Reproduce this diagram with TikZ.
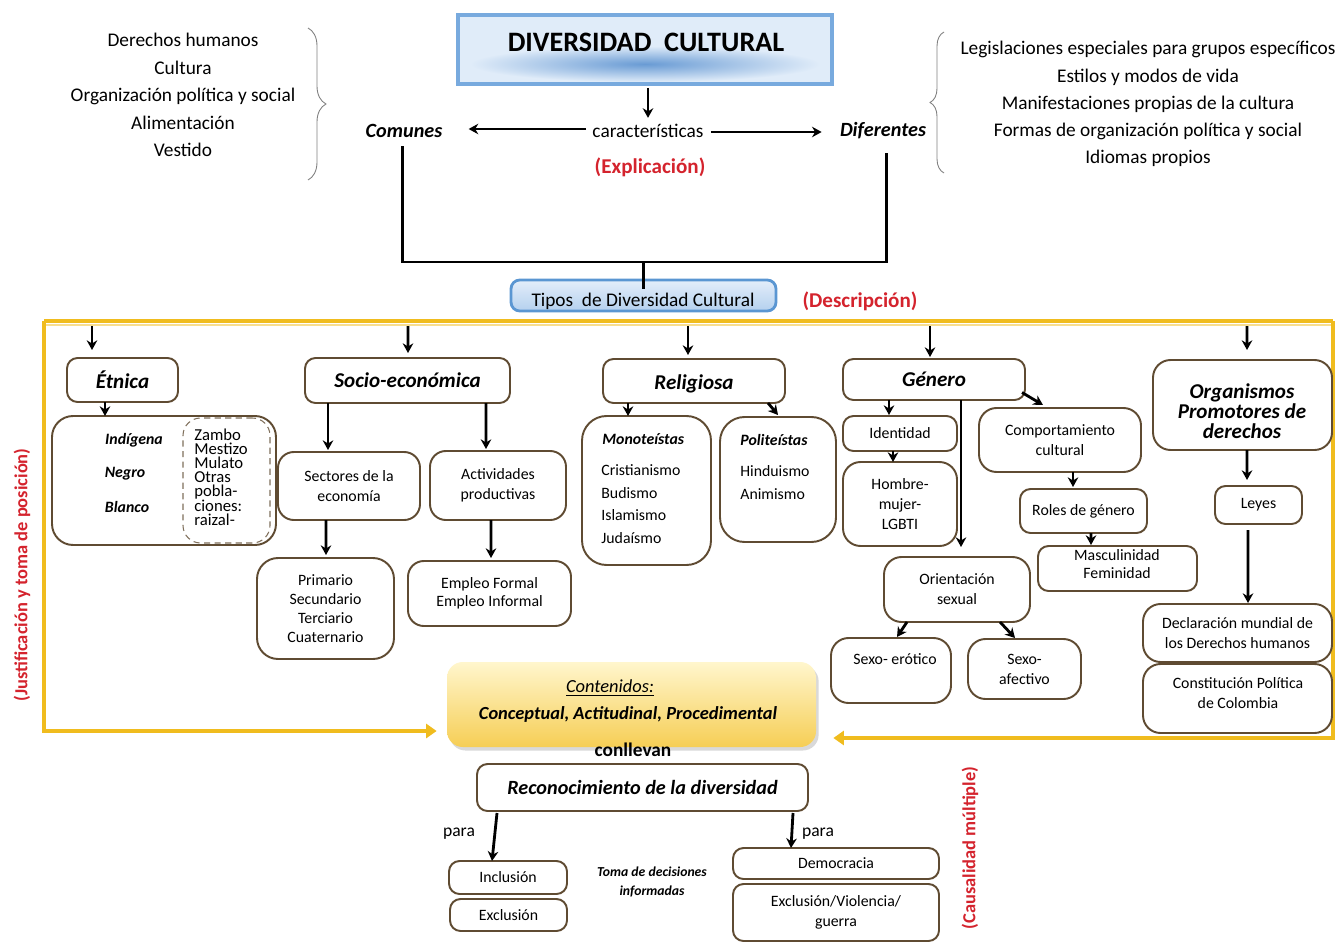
\documentclass[tikz,border=0pt]{standalone}
\usepackage{fontspec}
\setmainfont{Carlito}
\usetikzlibrary{calc,arrows.meta,decorations.pathreplacing,shadows}
\definecolor{brn}{RGB}{95,75,50}
\definecolor{ylw}{RGB}{240,188,30}
\definecolor{redt}{RGB}{212,35,45}
\definecolor{tbord}{RGB}{120,170,222}
\definecolor{tfill}{RGB}{224,236,249}
\definecolor{tglow}{RGB}{105,155,212}
\definecolor{tipb}{RGB}{90,150,210}
\definecolor{tip1}{RGB}{228,238,250}
\definecolor{tip2}{RGB}{180,208,238}
\definecolor{cnt1}{RGB}{255,246,205}
\definecolor{cnt2}{RGB}{246,206,85}
\begin{document}
\begin{tikzpicture}[x=0.02cm,y=-0.02cm,
  cr/.style args={#1/#2/#3/#4}{at={({(#1+#3)/2},{(#2+#4)/2})}, minimum width={(#3-#1)*0.02cm}, minimum height={(#4-#2)*0.02cm}},
  box/.style={draw=brn, line width=1.1pt, rounded corners=6pt, fill=white, inner sep=0pt, outer sep=0pt, align=center, font=\fontsize{9}{11.3}\selectfont},
  hd/.style={box, font=\fontsize{12}{11.4}\selectfont\bfseries\itshape},
  txt/.style={inner sep=0pt, align=center},
  sbi/.style={txt, font=\fontsize{9}{11}\selectfont\bfseries\itshape},
  arr/.style={-{Stealth[length=5.5pt,width=6pt]}, line width=1.6pt, black},
  yarr/.style={draw=ylw, line width=1.8pt, -{Triangle[length=6pt,width=8pt]}},
  red/.style={txt, text=redt, font=\fontsize{12}{13}\selectfont\bfseries}]
\useasboundingbox (0,0) rectangle (1344,942);

% ---------- top part ----------
\node[txt, font=\fontsize{11}{15.6}\selectfont] (ll) at (183,95) {Derechos humanos\\Cultura\\Organización política y social\\Alimentación\\Vestido};
\draw[gray, line width=0.5pt, decorate, decoration={brace, amplitude=0.36cm}] (308,28) -- (308,180);
\node[txt, font=\fontsize{11}{15.45}\selectfont] (rl) at (1148,104) {Legislaciones especiales para grupos específicos\\Estilos y modos de vida\\Manifestaciones propias de la cultura\\Formas de organización política y social\\Idiomas propios};
\draw[gray, line width=0.5pt, decorate, decoration={brace, amplitude=0.28cm}] (944,173) -- (944,32);

\node[cr=458/15/832/84, inner sep=0pt, outer sep=0pt, fill=tfill] (tb) {};
\shade[inner color=tglow, outer color=tfill] (645,64) ellipse (3.5cm and 0.36cm);
\draw[tbord, line width=2.4pt] (tb.south west) rectangle (tb.north east);
\node[txt, font=\fontsize{16}{17}\selectfont\bfseries] (tbt) at (646,42) {DIVERSIDAD\ \ CULTURAL};

\node[txt, font=\fontsize{11}{12}\selectfont] (car) at (648,131) {características};
\node[txt, font=\fontsize{11.5}{12}\selectfont\bfseries\itshape] (com) at (404,131) {Comunes};
\node[txt, font=\fontsize{11.5}{12}\selectfont\bfseries\itshape] (dif) at (883,131) {Diferentes};
\node[red] (expl) at (650,167) {(Explicación)};

\draw[arr] ($(tb.south)+(3,4)$) -- ($(car.north)+(0,-6)$);
\draw[arr] ($(car.west)+(-6,-2)$) -- ($(com.east)+(26,-2)$);
\draw[arr] ($(car.east)+(7,1)$) -- ($(dif.west)+(-18,1)$);

\node[cr=511/280/776/311, inner sep=0pt, draw=tipb, line width=1.6pt, rounded corners=5pt, top color=tip1, bottom color=tip2] (tip) {};
\node[txt, font=\fontsize{11}{12}\selectfont] (tipt) at (643,301) {Tipos\ \ de Diversidad Cultural};
\draw[line width=1.7pt] ($(com.south)+(-2,8)$) |- (886,262) coordinate (jr) -- ($(dif.south)+(3,13)$);
\draw[line width=1.7pt] ($(tip.north)+(0,10)$) -- ($(tip.north)+(0,-18)$);
\node[red] (desc) at (860,301) {(Descripción)};

% ---------- yellow frame ----------
\node[cr=447/662/816/747, inner sep=0pt, rounded corners=9pt, top color=cnt1, bottom color=cnt2, drop shadow={opacity=0.3, shadow xshift=1.5pt, shadow yshift=-2pt}] (cont) {};
\coordinate (ytl) at (44,321);
\coordinate (ytr) at (1333,321);
\draw[ylw, line width=1.8pt] (ytl) -- (ytr);
\draw[ylw!50, line width=0.8pt] (44,325) -- (1333,325);
\draw[yarr] (ytl) |- ($(cont.west)+(-10,26.5)$);
\draw[yarr] (ytr) |- ($(cont.east)+(17,33.5)$);

\node[red, rotate=90, font=\fontsize{10.5}{12}\selectfont\bfseries] (just) at (22,575) {(Justificación y toma de posición)};
\node[red, rotate=90, font=\fontsize{10.5}{12}\selectfont\bfseries] (caus) at (970,848) {(Causalidad múltiple)};

% ---------- level 1 ----------
\node[hd, cr=67/358/178/402] (etn) {Étnica};
\node[hd, cr=305/358/510/403] (soc) {Socio-económica};
\node[hd, cr=603/359/785/403, text height=11pt, text depth=1pt] (rel) {Religiosa};
\node[hd, cr=843/359/1025/400] (gen) {Género};
\node[hd, cr=1153/360/1332/450, rounded corners=10pt] (org) {};
\node[txt, font=\fontsize{12}{11.4}\selectfont\bfseries\itshape] (orgt) at (1242,411) {Organismos\\Promotores de\\derechos};

\coordinate (a1) at (92,326);
\coordinate (a2) at (408,326);
\coordinate (a3) at (688,326);
\coordinate (a4) at (930,326);
\coordinate (a5) at (1247,326);
\draw[arr] (a1) -- ($(etn.north)+(-30.5,-8)$);
\draw[arr] (a2) -- ($(soc.north)+(0.5,-5)$);
\draw[arr] (a3) -- ($(rel.north)+(-6,-4)$);
\draw[arr] (a4) -- ($(gen.north)+(-4,-2)$);
\draw[arr] (a5) -- ($(org.north)+(4.5,-10)$);

% ---------- Etnica ----------
\node[box, cr=52/416/276/545, rounded corners=12pt] (etnb) {};
\node[sbi] (ind) at (134,440) {Indígena};
\node[sbi] (neg) at (125,474) {Negro};
\node[sbi] (bla) at (127,507) {Blanco};
\node[draw=brn!80, line width=0.6pt, dash pattern=on 3.5pt off 2.5pt, rounded corners=10pt, cr=183/418/270/543, inner sep=0pt] (mix) {};
\node[txt, align=left, anchor=west, font=\fontsize{9.5}{8.1}\selectfont] (mixt) at (194,477) {Zambo\\Mestizo\\Mulato\\Otras\\pobla-\\ciones:\\raizal-};
\draw[arr] ($(etn.south)+(-17.5,0)$) -- ($(etnb.north)+(-59,0)$);

% ---------- Socio-economica ----------
\node[box, cr=278/452/420/520, rounded corners=9pt] (sect) {Sectores de la\\economía};
\node[box, cr=430/451/566/520, rounded corners=9pt] (act) {Actividades\\productivas};
\node[box, cr=257/558/394/659, rounded corners=12pt, font=\fontsize{9}{10.9}\selectfont] (prim) {Primario\\Secundario\\Terciario\\Cuaternario};
\node[box, cr=408/561/571/626, rounded corners=9pt, font=\fontsize{9}{10.2}\selectfont] (emp) {Empleo Formal\\Empleo Informal};
\draw[arr] ($(soc.south)+(-79.5,0)$) -- ($(sect.north)+(-21,-2)$);
\draw[arr] ($(soc.south)+(78.5,0)$) -- ($(act.north)+(-12,-2)$);
\draw[arr] ($(sect.south)+(-23,0)$) -- ($(prim.north)+(0.5,-3)$);
\draw[arr] ($(act.south)+(-7,0)$) -- ($(emp.north)+(1.5,-3)$);

% ---------- Religiosa ----------
\node[box, cr=582/416/711/565, rounded corners=14pt] (mono) {};
\node[sbi, anchor=west] (monot) at (602,439) {Monoteístas};
\node[txt, align=left, anchor=north west, font=\fontsize{9}{13}\selectfont] (monol) at (601,464) {Cristianismo\\Budismo\\Islamismo\\Judaísmo};
\node[box, cr=720/417/836/542, rounded corners=14pt] (poli) {};
\node[sbi, anchor=west] (polit) at (740,440) {Politeístas};
\node[txt, align=left, anchor=north west, font=\fontsize{9}{13}\selectfont] (polil) at (740,465) {Hinduismo\\Animismo};
\draw[arr] ($(rel.south)+(-66,0)$) -- ($(mono.north)+(-18.5,0)$);
\draw[arr] ($(rel.south)+(74,0)$) -- ($(poli.north)+(0,-2)$);

% ---------- Genero ----------
\node[box, cr=843/416/957/451] (ident) {Identidad};
\node[box, cr=843/462/957/546, rounded corners=10pt] (hom) {Hombre-\\mujer-\\LGBTI};
\node[box, cr=979/408/1141/472, rounded corners=10pt] (comp) {Comportamiento\\cultural};
\node[box, cr=1020/489/1147/533] (roles) {Roles de género};
\node[box, cr=1038/546/1197/591] (masc) {};
\node[txt, font=\fontsize{9}{10.2}\selectfont] (masct) at (1117,564) {Masculinidad\\Feminidad};
\node[box, cr=884/557/1030/622, rounded corners=10pt] (ori) {Orientación\\sexual};
\node[box, cr=831/638/951/703, rounded corners=10pt] (ero) {};
\node[txt, font=\fontsize{9}{11}\selectfont] (erot) at (895,659) {Sexo- erótico};
\node[box, cr=968/639/1081/699, rounded corners=10pt] (afe) {Sexo-\\afectivo};
\draw[arr] ($(gen.south)+(-45,0)$) -- ($(ident.north)+(-11,-1)$);
\draw[arr] ($(ident.south)+(-7,0)$) -- ($(hom.north)+(-7,0)$);
\draw[arr] ($(gen.south)+(27,0)$) -- ($(ori.north)+(4,-10)$);
\draw[arr] ($(gen.east)+(-3,13)$) -- ($(comp.north)+(-17,-3)$);
\draw[arr] ($(comp.south)+(13,0)$) -- ($(roles.north)+(-10.5,-2)$);
\draw[arr] ($(roles.south)+(7.5,0)$) -- ($(masc.north)+(-26.5,-1)$);
\draw[arr] ($(ori.south)+(-50,0)$) -- ($(ero.north)+(6,-1)$);
\draw[arr] ($(ori.south)+(43,0)$) -- ($(afe.north)+(-9.5,-1)$);

% ---------- Organismos ----------
\node[box, cr=1215/486/1302/524] (leyes) {Leyes};
\node[box, cr=1143/604/1332/662, rounded corners=10pt] (decl) {Declaración mundial de\\los Derechos humanos};
\node[box, cr=1143/664/1332/733, rounded corners=10pt] (const) {};
\node[txt, font=\fontsize{9}{11.3}\selectfont] (constt) at (1238,693) {Constitución Política\\de Colombia};
\draw[arr] ($(org.south)+(4.5,0)$) -- ($(leyes.north)+(-11.5,-6)$);
\draw[arr] ($(leyes.south)+(-10.5,6)$) -- ($(decl.north)+(10.5,-1)$);

% ---------- bottom ----------
\node[txt, font=\fontsize{10.5}{12}\selectfont\itshape] (cont1) at (610,688) {\underline{Contenidos:}};
\node[txt, font=\fontsize{10.5}{12}\selectfont\bfseries\itshape] (cont2) at (628,714) {Conceptual, Actitudinal, Procedimental};
\node[txt, font=\fontsize{11}{12}\selectfont\bfseries] (conl) at (633,750) {conllevan};
\node[box, cr=477/764/808/811, font=\fontsize{11.5}{12}\selectfont\bfseries\itshape] (rec) {Reconocimiento de la diversidad};
\node[box, cr=449/861/567/894] (incl) {Inclusión};
\node[box, cr=450/899/567/931] (excl) {Exclusión};
\node[box, cr=733/848/939/879] (demo) {Democracia};
\node[box, cr=733/884/939/941] (exv) {Exclusión/Violencia/\\guerra};
\node[txt, font=\fontsize{7.8}{10.5}\selectfont\bfseries\itshape] (toma) at (652,882) {Toma de decisiones\\informadas};
\node[txt, font=\fontsize{10}{12}\selectfont] (para1) at (459,834) {para};
\node[txt, font=\fontsize{10}{12}\selectfont] (para2) at (818,834) {para};
\draw[arr] ($(rec.south)+(-145.5,2)$) -- ($(incl.north)+(-16,0)$);
\draw[arr] ($(rec.south)+(150.5,2)$) -- ($(demo.north)+(-45,0)$);
\end{tikzpicture}
\end{document}
